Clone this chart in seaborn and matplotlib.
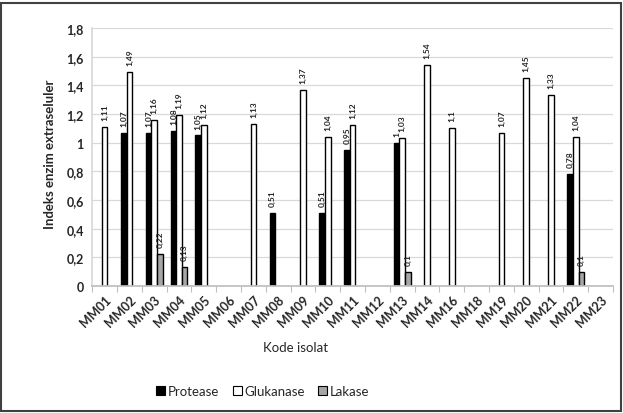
import numpy as np
import pandas as pd
import seaborn as sns
import matplotlib
matplotlib.use("Agg")
import matplotlib.pyplot as plt
from matplotlib.patches import Rectangle, Patch

categories = ["MM01", "MM02", "MM03", "MM04", "MM05", "MM06", "MM07", "MM08", "MM09", "MM10",
              "MM11", "MM12", "MM13", "MM14", "MM16", "MM18", "MM19", "MM20", "MM21", "MM22", "MM23"]
nan = np.nan
protease = [nan, 1.07, 1.07, 1.08, 1.05, nan, nan, 0.51, nan, 0.51,
            0.95, nan, 1.0, nan, nan, nan, nan, nan, nan, 0.78, nan]
glukanase = [1.11, 1.49, 1.16, 1.19, 1.12, nan, 1.13, nan, 1.37, 1.04,
             1.12, nan, 1.03, 1.54, 1.1, nan, 1.07, 1.45, 1.33, 1.04, nan]
lakase = [nan, nan, 0.22, 0.13, nan, nan, nan, nan, nan, nan,
          nan, nan, 0.1, nan, nan, nan, nan, nan, nan, 0.1, nan]
series = ["Protease", "Glukanase", "Lakase"]
colors = ["#000000", "#ffffff", "#a6a6a6"]
yticks = [0, 0.2, 0.4, 0.6, 0.8, 1.0, 1.2, 1.4, 1.6, 1.8]

df = pd.DataFrame({
    "Kode": categories * 3,
    "Enzim": [series[0]] * len(categories) + [series[1]] * len(categories) + [series[2]] * len(categories),
    "Nilai": protease + glukanase + lakase,
})

sns.set_theme(style="white")
plt.rcParams["font.family"] = ["Lato", "DejaVu Sans"]

fig = plt.figure(figsize=(6.23, 4.14), dpi=100)
ax = fig.add_axes([0.148, 0.307, 0.836, 0.623])

sns.barplot(data=df, x="Kode", y="Nilai", hue="Enzim", order=categories, hue_order=series,
            palette=colors, width=0.68, gap=0, edgecolor="black", linewidth=1.0,
            errorbar=None, legend=False, ax=ax)

def fmt(v):
    s = ("%.2f" % v).rstrip("0").rstrip(".")
    return s.replace(".", ",")

for cont in ax.containers:
    labels = [fmt(h) if not np.isnan(h) else "" for h in cont.datavalues]
    ax.bar_label(cont, labels=labels, rotation=90, padding=5, fontsize=6,
                 fontweight="bold", color="#222222")

ax.set_ylim(0, 1.8)
ax.set_xlim(-0.5, len(categories) - 0.5)
ax.set_yticks(yticks)
ax.set_yticklabels([fmt(v) for v in yticks], fontsize=9, fontweight="bold")
ax.yaxis.grid(True, color="#d9d9d9", linewidth=0.9)
ax.set_axisbelow(True)
for s in ["top", "right"]:
    ax.spines[s].set_visible(False)
ax.spines["left"].set_color("#d9d9d9")
ax.spines["bottom"].set_color("#bfbfbf")
ax.tick_params(axis="y", length=0, pad=6)
ax.set_xticks(range(len(categories)))
ax.set_xticklabels(categories, rotation=45, ha="right", rotation_mode="anchor",
                   fontsize=9, fontweight="bold")
ax.tick_params(axis="x", which="major", length=0, pad=5)
ax.set_xticks(np.arange(-0.5, len(categories), 1.0), minor=True)
ax.tick_params(axis="x", which="minor", length=4, color="#bfbfbf", width=0.8, bottom=True)

ax.set_xlabel("Kode isolat", fontsize=9.5)
ax.xaxis.set_label_coords(0.39, -0.215)
ax.set_ylabel("Indeks enzim extraseluler", fontsize=9.5, fontweight="bold")
ax.yaxis.set_label_coords(-0.07, 0.515)

handles = [Patch(facecolor=c, edgecolor="black", linewidth=0.8) for c in colors]
fig.legend(handles, series, loc="center", bbox_to_anchor=(0.422, 0.053), ncol=3, frameon=False,
           fontsize=9.5, handlelength=0.7, handleheight=0.7, handletextpad=0.2, columnspacing=1.0)

fig.patches.append(Rectangle((0.002, 0.005), 0.994, 0.986, transform=fig.transFigure,
                             fill=False, edgecolor="#404040", linewidth=1.5))

fig.savefig("out.png", dpi=100)
